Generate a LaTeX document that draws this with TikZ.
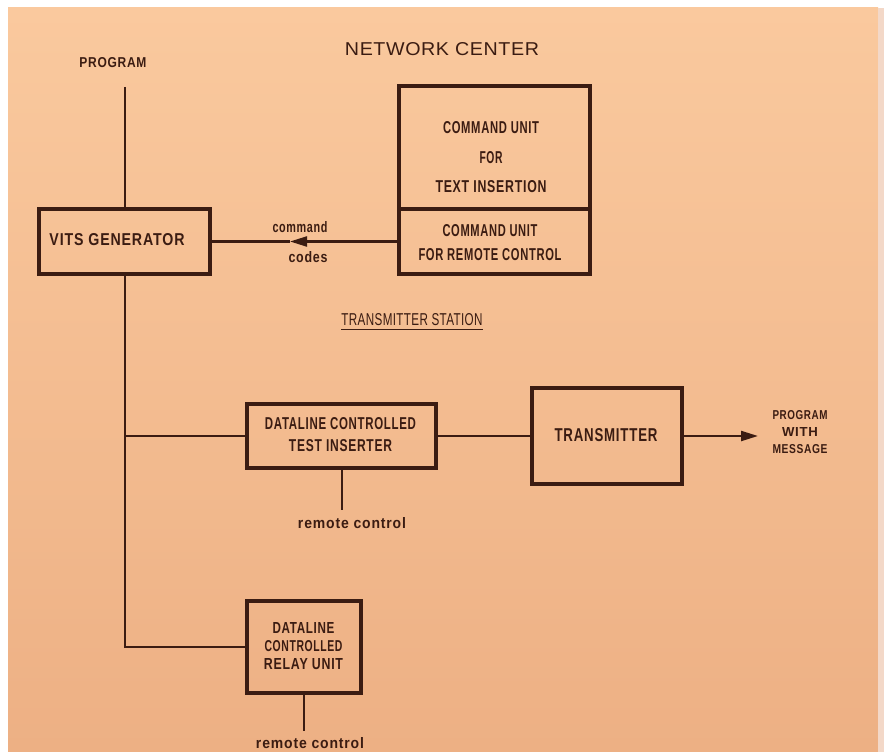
\documentclass[tikz,border=0pt]{standalone}
\usepackage{fontspec}
\setmainfont{Liberation Sans}
\newfontfamily\lbl[LetterSpace=6]{Liberation Sans}
\newfontfamily\hdr[LetterSpace=3]{Liberation Sans}
\usepackage{graphicx}
\usetikzlibrary{arrows.meta}
\definecolor{ink}{HTML}{3B1C12}
\definecolor{paperT}{HTML}{FAC99E}
\definecolor{paperB}{HTML}{EDB084}
\definecolor{paperR}{HTML}{F3D8C8}
\newcommand\fw[3]{\resizebox{#1pt}{#2pt}{#3}}
\begin{document}
\begin{tikzpicture}[x=1pt,y=-1pt,
  box/.style={draw=ink, line width=3.2pt, inner sep=0pt},
  wire/.style={draw=ink, line width=2.2pt},
  txt/.style={text=ink, inner sep=0pt, align=center, font=\lbl\bfseries},
  hd/.style={text=ink, inner sep=0pt, align=center, font=\hdr},
  tip/.style={-{Triangle[length=17pt,width=10pt]}},
]
\useasboundingbox (0,0) rectangle (884,752);
\fill[white] (0,0) rectangle (884,752);
\shade[top color=paperT, bottom color=paperB] (8,8) rectangle (878,752);
\fill[paperR] (878,8) rectangle (884,752);

% headings
\node[hd] (nc) at (442,49) {\fw{194}{13}{NETWORK CENTER}};
\node[txt] (prog) at (113,63) {\fw{67}{10}{PROGRAM}};
\node[txt, font=\hdr] (ts) at (412,320) {\fw{141}{12}{TRANSMITTER STATION}};
\draw[ink, line width=1.4pt] ([yshift=-3pt]ts.south west) -- ([yshift=-3pt]ts.south east);

% boxes
\node[box, minimum width=171pt, minimum height=65pt] (vits) at (124.5,241.5) {};
\node[txt] (vitsT) at (117,240) {\fw{135}{12}{VITS GENERATOR}};

\node[box, minimum width=191pt, minimum height=123pt] (cmdtop) at (494.5,147.5) {};
\node[txt, font=\lbl\bfseries\fontsize{10}{29.5}\selectfont] (cmdtopT) at (491,157.5)
  {\fw{96}{12}{COMMAND UNIT}\\\fw{23}{12}{FOR}\\\fw{111}{12}{TEXT INSERTION}};

\node[box, minimum width=191pt, minimum height=65pt] (cmdbot) at (494.5,241.5) {};
\node[txt, font=\lbl\bfseries\fontsize{10}{24}\selectfont] (cmdbotT) at (490,243)
  {\fw{95}{12}{COMMAND UNIT}\\\fw{143}{12}{FOR REMOTE CONTROL}};

\node[box, minimum width=189pt, minimum height=64pt] (test) at (341.5,436) {};
\node[txt, font=\lbl\bfseries\fontsize{10}{22}\selectfont] (testT) at (340.5,435)
  {\fw{151}{12}{DATALINE CONTROLLED}\\\fw{103}{12}{TEST INSERTER}};

\node[box, minimum width=150pt, minimum height=96pt] (tx) at (607,436) {};
\node[txt] (txT) at (606,435) {\fw{103}{13}{TRANSMITTER}};

\node[box, minimum width=114pt, minimum height=92pt] (relay) at (304,647) {};
\node[txt, font=\lbl\bfseries\fontsize{10}{18}\selectfont] (relayT) at (303.5,646)
  {\fw{62}{11}{DATALINE}\\\fw{78}{11}{CONTROLLED}\\\fw{79}{11}{RELAY UNIT}};

% labels
\node[txt] (cmdL) at (300,227) {\fw{55}{11}{command}};
\node[txt] (codL) at (308,257) {\fw{39}{11}{codes}};
\node[txt, font=\lbl\bfseries\fontsize{10}{17}\selectfont] (outL) at (800,432)
  {\fw{55}{9}{PROGRAM}\\\fw{36}{9}{WITH}\\\fw{55}{9}{MESSAGE}};
\node[txt] (rc1) at (352,523) {\fw{108}{11}{remote control}};
\node[txt] (rc2) at (310,743) {\fw{108}{11}{remote control}};

% coordinates
\coordinate (ptop) at (125,87);
\coordinate (jt) at (125,436);
\coordinate (jr) at (125,647);
\coordinate (am) at (290,241.5);
\coordinate (out) at (758,436);
\coordinate (s1) at (342,510);
\coordinate (s2) at (304,731);

% connectors
\draw[wire] (ptop) -- (vits.north -| ptop);
\draw[wire] (vits.south -| ptop) -- (jr) -- (relay.west);
\draw[wire] (jt) -- (test.west);
\draw[wire] (test.east) -- (tx.west);
\draw[wire, tip, ink] (tx.east) -- (out);
\draw[wire, tip, ink] (cmdbot.west) -- (am);
\draw[wire] (am) -- (vits.east);
\draw[wire] (test.south -| s1) -- (s1);
\draw[wire] (relay.south) -- (s2);
\end{tikzpicture}
\end{document}
